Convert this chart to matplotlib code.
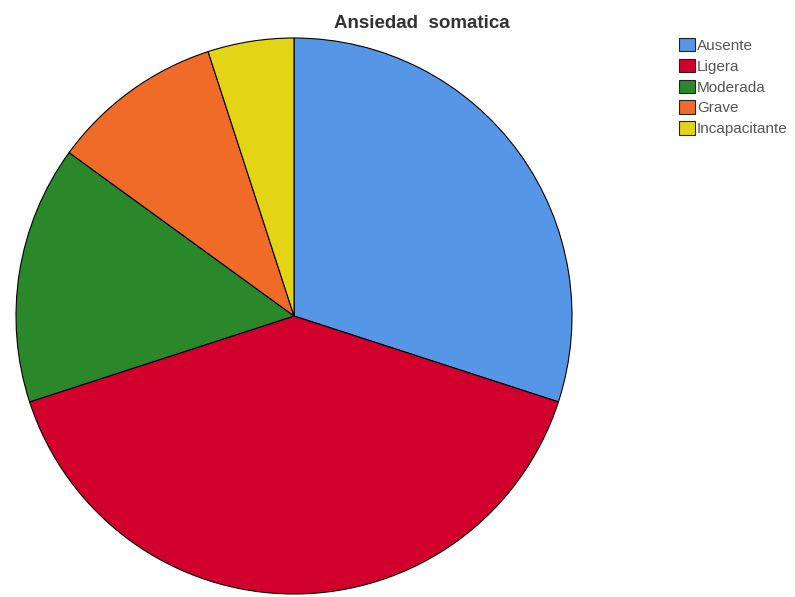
import matplotlib.pyplot as plt
from matplotlib.patches import Patch

plt.rcParams['font.family'] = ['Liberation Sans', 'DejaVu Sans']

# Categorías y frecuencias
categorias = ['Ausente', 'Ligera', 'Moderada', 'Grave', 'Incapacitante']
frecuencias = [6, 8, 3, 2, 1]
colores = ['#5596e6', '#d2002c', '#2a882a', '#f06a28', '#e4d416']

fig = plt.figure(figsize=(7.95, 5.97), dpi=100)

# Eje del pastel: centro (294, 316) px, radio 278 px
W, H = 795, 597
cx, cy, r = 294, 316, 278
ax = fig.add_axes([(cx - r) / W, (H - cy - r) / H, 2 * r / W, 2 * r / H])
ax.pie(frecuencias, colors=colores, startangle=90, counterclock=False,
       radius=1, wedgeprops={'edgecolor': 'black', 'linewidth': 0.8})
ax.set_xlim(-1, 1)
ax.set_ylim(-1, 1)
ax.set_aspect('equal')
ax.axis('off')

fig.text(422 / W, 1 - 24 / H, 'Ansiedad  somatica', ha='center', va='center',
         fontsize=13.5, fontweight='bold', color='#333333')

handles = [Patch(facecolor=c, edgecolor='#222222', linewidth=0.8) for c in colores]
fig.legend(handles, categorias, loc='upper left', bbox_to_anchor=(679 / W, 1 - 38 / H),
           frameon=False, fontsize=11, handlelength=1.05, handleheight=0.98,
           handletextpad=0.12, labelspacing=0.38, borderaxespad=0, borderpad=0,
           labelcolor='#555555')

fig.savefig('out.png', dpi=100)
